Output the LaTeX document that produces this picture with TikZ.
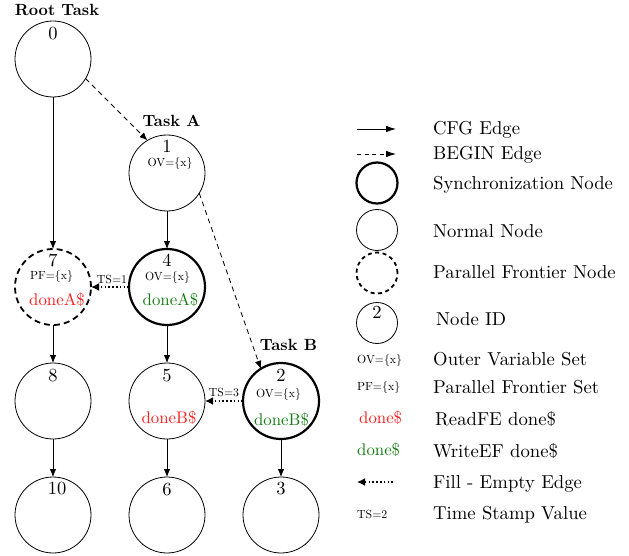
\documentclass[tikz,border=0pt]{standalone}
\usepackage{fontspec}
\setmainfont{lmroman10-regular}[Extension=.otf, BoldFont=lmroman10-bold]
\usetikzlibrary{arrows.meta}
\definecolor{wgreen}{RGB}{20,125,20}
\definecolor{rred}{RGB}{255,30,30}
\tikzset{
 nd/.style={circle, draw, minimum size=76pt, inner sep=0pt, outer sep=0pt, line width=0.8pt},
 syncnd/.style={nd, line width=2.2pt},
 pfnd/.style={nd, line width=1.8pt, dash pattern=on 6pt off 4pt},
 lnd/.style={circle, draw, minimum size=41pt, inner sep=0pt, outer sep=0pt, line width=0.8pt},
 cfg/.style={-{Latex[length=8pt,width=6.5pt]}, line width=0.8pt},
 beginedge/.style={cfg, dash pattern=on 5pt off 4pt},
 fe/.style={-{Latex[length=8pt,width=8pt]}, line width=1.6pt, dash pattern=on 1.6pt off 2.2pt},
 num/.style={font=\fontsize{18.5}{22}\selectfont, anchor=base, inner sep=0pt},
 smalltxt/.style={font=\fontsize{11.8}{14}\selectfont, inner sep=0pt},
 donetxt/.style={font=\fontsize{16.8}{20}\selectfont, inner sep=0pt},
 tasktxt/.style={font=\fontsize{16.2}{19}\selectfont\bfseries, anchor=base, inner sep=0pt},
 legtext/.style={font=\fontsize{18.7}{22}\selectfont, anchor=base west, inner sep=0pt},
}
\begin{document}
\begin{tikzpicture}[x=1pt,y=-1pt]
\useasboundingbox (0,0) rectangle (629,556);
% nodes
\node[nd] (n0) at (53,59) {};
\node[nd] (n1) at (167,173) {};
\node[pfnd] (n7) at (53,287) {};
\node[syncnd] (n4) at (167,287) {};
\node[nd] (n8) at (53,401) {};
\node[nd] (n5) at (167,401) {};
\node[syncnd] (n2) at (281,401) {};
\node[nd] (n10) at (53,515) {};
\node[nd] (n6) at (167,515) {};
\node[nd] (n3) at (281,515) {};
% task labels
\node[tasktxt] (tr) at (57,16) {Root Task};
\node[tasktxt] (ta) at (171.5,127) {Task A};
\node[tasktxt] (tb) at (288.5,350) {Task B};
% numbers
\node[num] (l0) at (53,39.5) {0};
\node[num] (l1) at (167,152.5) {1};
\node[num] (l7) at (53,266.5) {7};
\node[num] (l4) at (167,266.5) {4};
\node[num] (l8) at (53,381) {8};
\node[num] (l5) at (167,381) {5};
\node[num] (l2) at (281,381.5) {2};
\node[num] (l10) at (57,494.5) {10};
\node[num] (l6) at (167,495) {6};
\node[num] (l3) at (281,494.5) {3};
% inner texts
\node[smalltxt] (ov1) at (170,164) {OV=\{x\}};
\node[smalltxt] (ov4) at (167.5,278) {OV=\{x\}};
\node[smalltxt] (ov2) at (278.5,395) {OV=\{x\}};
\node[smalltxt] (pf7) at (51.5,277) {PF=\{x\}};
\node[donetxt, text=rred] (d7) at (57,299.5) {doneA\$};
\node[donetxt, text=wgreen] (d4) at (170.5,299.5) {doneA\$};
\node[donetxt, text=rred] (d5) at (169,417.5) {doneB\$};
\node[donetxt, text=wgreen] (d2) at (281.5,420) {doneB\$};
% edges
\draw[cfg] (n0) -- (n7);
\draw[cfg] (n1) -- (n4);
\draw[cfg] (n7) -- (n8);
\draw[cfg] (n8) -- (n10);
\draw[cfg] (n4) -- (n5);
\draw[cfg] (n5) -- (n6);
\draw[cfg] (n2) -- (n3);
\draw[beginedge] (n0.-31) -- (n1.121);
\draw[beginedge] (n1.-32) -- (n2.122);
\draw[fe] (n4) -- (n7);
\draw[fe] (n2) -- (n5);
\node[smalltxt] (ts1) at (112,279.5) {TS=1};
\node[smalltxt] (ts3) at (224,392.5) {TS=3};
% legend
\coordinate (a1s) at (357,129);
\coordinate (a1e) at (396,129);
\draw[-{Latex[length=10pt,width=6.5pt]}, line width=0.8pt] (a1s) -- (a1e);
\node[legtext] (t1) at (433,135) {CFG Edge};
\coordinate (a2s) at (357,154);
\coordinate (a2e) at (396,154);
\draw[-{Latex[length=10pt,width=6.5pt]}, line width=0.8pt, dash pattern=on 4pt off 3.5pt] (a2s) -- (a2e);
\node[legtext] (t2) at (433,160) {BEGIN Edge};
\node[lnd, line width=2.2pt] (c1) at (377,183) {};
\node[legtext] (t3) at (433,190) {Synchronization Node};
\node[lnd] (c2) at (377,230) {};
\node[legtext] (t4) at (433,237) {Normal Node};
\node[lnd, line width=1.8pt, dash pattern=on 4pt off 3.5pt] (c3) at (377,273) {};
\node[legtext] (t5) at (433,278) {Parallel Frontier Node};
\node[lnd] (c4) at (377,323) {};
\node[num] (c4n) at (377,318) {2};
\node[legtext] (t6) at (436,325) {Node ID};
\node[smalltxt, anchor=west] (s1) at (357,361) {OV=\{x\}};
\node[legtext] (t7) at (433,365) {Outer Variable Set};
\node[smalltxt, anchor=west] (s2) at (357,388) {PF=\{x\}};
\node[legtext] (t8) at (433,393) {Parallel Frontier Set};
\node[donetxt, anchor=west, text=rred] (s3) at (359,418) {done\$};
\node[legtext] (t9) at (435,425) {ReadFE done\$};
\node[donetxt, anchor=west, text=wgreen] (s4) at (357,450) {done\$};
\node[legtext] (t10) at (433,457) {WriteEF done\$};
\coordinate (a3s) at (393,482);
\coordinate (a3e) at (357,482);
\draw[fe] (a3s) -- (a3e);
\node[legtext] (t11) at (433,488) {Fill - Empty Edge};
\node[smalltxt, anchor=west] (s5) at (357,514) {TS=2};
\node[legtext] (t12) at (433,519) {Time Stamp Value};
\end{tikzpicture}
\end{document}
